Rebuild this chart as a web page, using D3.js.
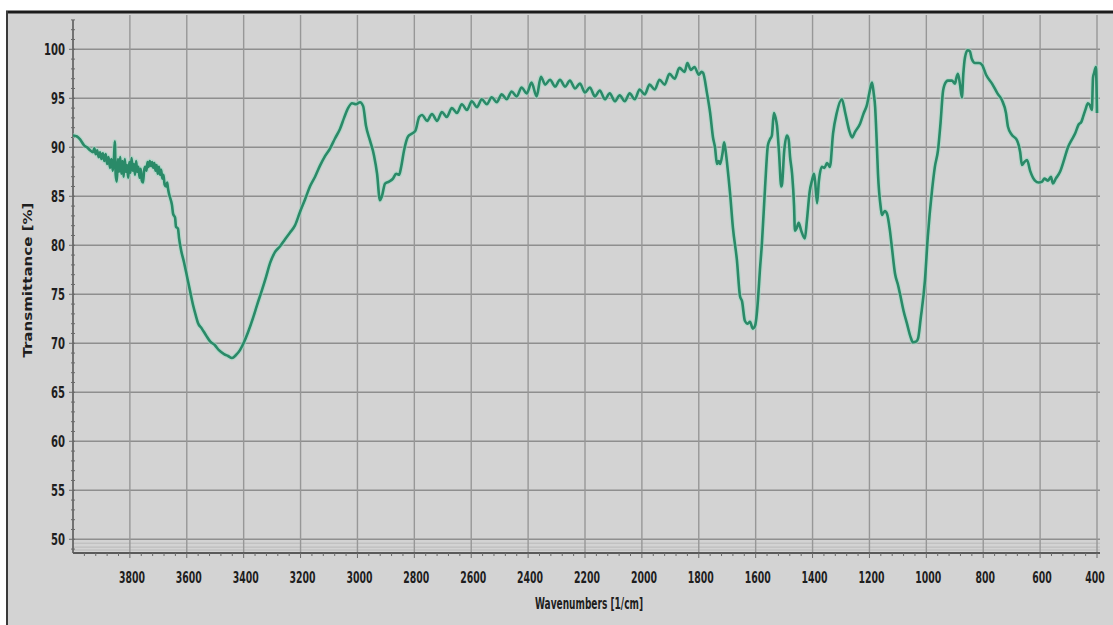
<!DOCTYPE html>
<html>
<head>
<meta charset="utf-8">
<script src="https://cdn.jsdelivr.net/npm/d3@7"></script>
<style>
  html, body { margin: 0; padding: 0; background: #ffffff; }
  svg { display: block; }
  .lbl { font-family: "Liberation Sans Narrow", "DejaVu Sans Condensed", "Liberation Sans", sans-serif; font-weight: bold; fill: #1e1e1e; }
</style>
</head>
<body>
<svg id="chart" width="1113" height="625"></svg>
<script>
// FTIR spectrum: wavenumber (cm^-1) and transmittance (%)
const wavenumbers = [
  4000, 3986, 3975, 3961, 3951, 3940,
  3930, 3925, 3920, 3915, 3910, 3905, 3900, 3895, 3890, 3885, 3880, 3875, 3870, 3865, 3860, 3856,
  3853, 3850, 3846, 3842, 3838, 3834, 3830, 3826, 3822, 3818, 3814, 3810, 3806, 3802, 3798, 3794,
  3790, 3786, 3782, 3778, 3774, 3770, 3766, 3762, 3758, 3754, 3750, 3746, 3742, 3738, 3734, 3730,
  3726, 3722, 3718, 3714, 3710, 3706, 3702, 3698, 3694, 3690, 3686, 3682, 3678, 3673, 3669, 3666,
  3662, 3659, 3652, 3648, 3641, 3638,
  3631, 3627, 3620, 3610, 3599, 3589, 3578, 3568, 3561, 3547, 3532, 3518, 3501, 3487, 3469, 3455,
  3441, 3427, 3413, 3399, 3385, 3367, 3353, 3336, 3321, 3307, 3290, 3272, 3255, 3237, 3220, 3202,
  3184, 3167, 3149, 3132, 3114, 3096, 3079, 3061, 3047, 3033, 3019, 3005, 2991, 2980, 2970, 2956,
  2942, 2931, 2921, 2914, 2903, 2889, 2875, 2864, 2853, 2847, 2836, 2822, 2808, 2796, 2783, 2773,
  2755, 2738, 2720, 2703, 2686, 2668, 2650, 2633, 2615, 2598, 2580, 2563, 2545, 2528, 2510, 2493,
  2475, 2458, 2440, 2423, 2405, 2388, 2370, 2355, 2340, 2323, 2305, 2288, 2270, 2253, 2235, 2218,
  2200, 2183, 2165, 2148, 2130, 2113, 2095, 2078, 2060, 2043, 2025, 2008, 1990, 1973, 1955, 1938,
  1920, 1903, 1885, 1868, 1850, 1840, 1828, 1815, 1800, 1790, 1785,
  1771, 1760, 1750, 1743, 1736, 1730, 1725, 1716, 1711, 1705, 1701, 1695, 1690, 1680, 1666, 1655,
  1648, 1638, 1628, 1620, 1610, 1602, 1596, 1592, 1585, 1578, 1567, 1557, 1550, 1543, 1536, 1530,
  1525, 1518, 1510, 1507, 1500, 1490, 1484, 1479, 1472, 1465, 1462, 1455, 1449, 1440, 1427, 1420,
  1410, 1402, 1395, 1391, 1384, 1378, 1367, 1358, 1349, 1339, 1328, 1315, 1297, 1285, 1270, 1261,
  1250, 1233, 1220, 1209, 1200, 1191, 1185, 1180, 1175, 1170, 1160, 1156, 1146, 1138, 1128, 1120,
  1110, 1100, 1093, 1080, 1068, 1055, 1047, 1035, 1029, 1020, 1005, 995, 980, 970, 959, 950,
  941, 930, 924, 910, 899, 895, 889, 882, 875, 870, 864, 855, 847, 840, 829, 815,
  804, 790, 769, 750, 734, 720, 713, 700, 681, 670, 664, 655, 646, 635, 618, 605,
  593, 585, 572, 562, 555, 545, 530, 515, 502, 490, 477, 465, 455, 449, 440, 432,
  425, 418, 414, 410, 404, 400
];
const transmittance = [
  91.2, 91.1, 90.8, 90.2, 90.0, 89.7,
  89.5, 89.9, 89.3, 89.7, 89.0, 89.5, 88.8, 89.4, 88.6, 89.3, 88.3, 89.0, 87.9, 88.8, 87.6, 88.9,
  90.6, 87.2, 86.5, 88.8, 87.5, 89.0, 87.3, 88.6, 87.0, 88.8, 87.5, 88.2, 86.9, 88.5, 87.4, 88.9,
  87.6, 88.3, 87.2, 88.6, 87.5, 88.0, 86.9, 87.8, 86.6, 86.4, 87.6, 88.0, 87.6, 88.5, 88.0, 88.6,
  88.1, 88.5, 87.9, 88.4, 87.6, 88.2, 87.3, 88.0, 87.2, 87.7, 86.8, 87.2, 86.2, 86.0, 86.4, 85.8,
  85.2, 84.9, 84.1, 83.2, 82.8, 81.9,
  81.7, 80.7, 79.5, 78.3, 76.8, 75.4, 73.9, 72.8, 72.1, 71.5, 70.8, 70.2, 69.8, 69.3, 68.9, 68.7,
  68.5, 68.8, 69.3, 70.1, 71.1, 72.6, 73.9, 75.4, 76.8, 78.2, 79.3, 79.9, 80.6, 81.3, 82.0, 83.4,
  84.7, 86.0, 87.0, 88.1, 89.1, 89.9, 90.9, 91.9, 93.0, 94.0, 94.5, 94.4, 94.6, 94.2, 92.2, 90.7,
  89.2, 87.3, 84.6, 85.0, 86.3, 86.5, 86.8, 87.3, 87.2, 87.9, 89.7, 91.1, 91.4, 91.7, 93.1, 93.3,
  92.7, 93.4, 92.7, 93.6, 93.1, 94.0, 93.5, 94.4, 93.8, 94.7, 94.1, 94.9, 94.4, 95.1, 94.6, 95.4,
  94.9, 95.7, 95.2, 96.1, 95.5, 96.6, 95.2, 97.2, 96.4, 96.9, 96.2, 96.9, 96.2, 96.8, 96.0, 96.5,
  95.6, 96.1, 95.2, 95.8, 94.9, 95.5, 94.7, 95.3, 94.7, 95.5, 94.9, 95.9, 95.4, 96.4, 95.9, 96.9,
  96.4, 97.5, 97.0, 98.1, 97.7, 98.6, 97.9, 98.2, 97.4, 97.7, 97.6,
  95.5, 93.5, 91.0, 90.0, 88.3, 88.6, 88.3, 89.5, 90.5, 89.5, 88.5, 86.8, 85.3, 81.8, 78.5, 74.8,
  74.3, 72.3, 72.0, 72.2, 71.5, 71.8, 73.0, 74.4, 77.5, 80.2, 85.9, 90.2, 90.8, 91.2, 93.5, 93.0,
  92.2, 89.5, 86.0, 86.3, 89.5, 91.2, 90.8, 89.0, 87.3, 84.0, 81.5, 81.8, 82.3, 81.5, 80.7, 82.5,
  85.5, 86.6, 87.3, 86.5, 84.3, 86.5, 88.0, 87.9, 88.4, 88.0, 91.4, 93.5, 94.9, 93.5, 91.6, 91.0,
  91.6, 92.4, 93.5, 94.3, 95.6, 96.6, 95.5, 94.1, 91.0, 87.3, 83.8, 83.1, 83.5, 83.2, 81.5, 79.5,
  77.1, 76.0, 75.1, 73.3, 72.0, 70.6, 70.1, 70.2, 70.5, 72.5, 76.4, 80.8, 85.6, 88.0, 89.7, 92.5,
  95.8, 96.7, 96.8, 96.8, 96.5, 97.0, 97.5, 96.5, 95.1, 97.5, 99.2, 99.9, 99.8, 99.0, 98.6, 98.6,
  98.4, 97.4, 96.5, 95.5, 94.8, 93.5, 92.1, 91.3, 90.7, 89.5, 88.2, 88.5, 88.7, 87.6, 86.6, 86.4,
  86.5, 86.8, 86.6, 87.0, 86.3, 86.8, 87.5, 88.8, 90.0, 90.7, 91.4, 92.3, 92.6, 93.1, 93.9, 94.5,
  94.3, 93.8, 97.1, 97.6, 98.2, 93.5
];
const xTicks = [3800, 3600, 3400, 3200, 3000, 2800, 2600, 2400, 2200, 2000, 1800, 1600, 1400, 1200, 1000, 800, 600, 400];
const yTicks = [50, 55, 60, 65, 70, 75, 80, 85, 90, 95, 100];
const xTitle = "Wavenumbers [1/cm]";
const yTitle = "Transmittance [%]";

const svg = d3.select("#chart");
const W = 1113, H = 625;
const plotLeft = 73, plotRight = 1097, plotTop = 15, plotBottom = 553;

const x = d3.scaleLinear().domain([4000, 400]).range([plotLeft, plotRight]);
const y = d3.scaleLinear().domain([48.6, 103.5]).range([plotBottom, plotTop]);

// panel background and frame
svg.append("rect").attr("x", 6).attr("y", 11).attr("width", W - 6).attr("height", H - 11).attr("fill", "#d3d3d3");
svg.append("line").attr("x1", 6).attr("x2", W).attr("y1", 12).attr("y2", 12).attr("stroke", "#1c1c1c").attr("stroke-width", 3);
svg.append("line").attr("x1", 7).attr("x2", 7).attr("y1", 11).attr("y2", H).attr("stroke", "#3a3a3a").attr("stroke-width", 2);

const grid = svg.append("g");
// horizontal grid
grid.selectAll("line.h").data(yTicks).join("line")
  .attr("x1", plotLeft).attr("x2", plotRight + 3)
  .attr("y1", d => y(d)).attr("y2", d => y(d))
  .attr("stroke", "#8e8e8e").attr("stroke-width", 1.6);
// faint lines below the lowest grid line
grid.selectAll("line.f").data([49.6, 49.2, 48.9]).join("line")
  .attr("x1", plotLeft).attr("x2", plotRight + 3)
  .attr("y1", d => y(d)).attr("y2", d => y(d))
  .attr("stroke", "#b4b4b4").attr("stroke-width", 0.8);
// vertical grid
grid.selectAll("line.v").data(xTicks).join("line")
  .attr("x1", d => x(d)).attr("x2", d => x(d))
  .attr("y1", plotTop).attr("y2", plotBottom)
  .attr("stroke", "#979797").attr("stroke-width", 1.4);

// axes lines
svg.append("line").attr("x1", plotLeft).attr("x2", plotLeft).attr("y1", 20).attr("y2", plotBottom)
  .attr("stroke", "#5a5a5a").attr("stroke-width", 1.6);
svg.append("line").attr("x1", plotLeft).attr("x2", plotRight + 3).attr("y1", plotBottom).attr("y2", plotBottom)
  .attr("stroke", "#5a5a5a").attr("stroke-width", 2);

// y minor / major ticks
const yMinor = d3.range(49, 104, 1);
svg.append("g").selectAll("line").data(yMinor).join("line")
  .attr("x1", d => d % 5 === 0 ? 69 : 71).attr("x2", 75)
  .attr("y1", d => y(d)).attr("y2", d => y(d))
  .attr("stroke", "#6a6a6a").attr("stroke-width", 1);
// x minor / major ticks
const xMinor = d3.range(3960, 399, -40);
svg.append("g").selectAll("line").data(xMinor).join("line")
  .attr("x1", d => x(d)).attr("x2", d => x(d))
  .attr("y1", plotBottom).attr("y2", d => d % 200 === 0 ? plotBottom + 5 : plotBottom + 3)
  .attr("stroke", "#6a6a6a").attr("stroke-width", 1);

// tick labels
svg.append("g").selectAll("text").data(yTicks).join("text")
  .attr("class", "lbl")
  .attr("x", 65).attr("y", d => y(d))
  .attr("dy", "0.36em")
  .attr("text-anchor", "end")
  .attr("font-size", 15)
  .attr("textLength", d => String(d).length * 7)
  .attr("lengthAdjust", "spacingAndGlyphs")
  .text(d => d);

svg.append("g").selectAll("text").data(xTicks).join("text")
  .attr("class", "lbl")
  .attr("x", d => Math.min(x(d) + 2, 1095)).attr("y", 577)
  .attr("dy", "0.36em")
  .attr("text-anchor", "middle")
  .attr("font-size", 16)
  .attr("textLength", d => String(d).length * 6.5)
  .attr("lengthAdjust", "spacingAndGlyphs")
  .text(d => d);

// axis titles
svg.append("text").attr("class", "lbl")
  .attr("x", 589).attr("y", 604).attr("dy", "0.36em")
  .attr("text-anchor", "middle").attr("font-size", 15)
  .attr("textLength", 108).attr("lengthAdjust", "spacingAndGlyphs")
  .text(xTitle);

svg.append("text").attr("class", "lbl")
  .attr("transform", "translate(28,280) rotate(-90)")
  .attr("dy", "0.36em")
  .attr("text-anchor", "middle").attr("font-size", 12)
  .attr("textLength", 155).attr("lengthAdjust", "spacingAndGlyphs")
  .text(yTitle);

// spectrum line
const pts = wavenumbers.map((w, i) => [w, transmittance[i]]);
const line = d3.line().x(d => x(d[0])).y(d => y(d[1])).curve(d3.curveMonotoneX);

svg.append("clipPath").attr("id", "plotClip")
  .append("rect").attr("x", plotLeft).attr("y", plotTop).attr("width", plotRight - plotLeft + 3).attr("height", plotBottom - plotTop);

const plot = svg.append("g").attr("clip-path", "url(#plotClip)");
plot.append("path").datum(pts)
  .attr("d", line).attr("fill", "none")
  .attr("stroke", "#9fd9c2").attr("stroke-width", 5).attr("stroke-opacity", 0.55)
  .attr("stroke-linejoin", "round");
plot.append("path").datum(pts)
  .attr("d", line).attr("fill", "none")
  .attr("stroke", "#2a8a68").attr("stroke-width", 2.6)
  .attr("stroke-linejoin", "round");
</script>
</body>
</html>
